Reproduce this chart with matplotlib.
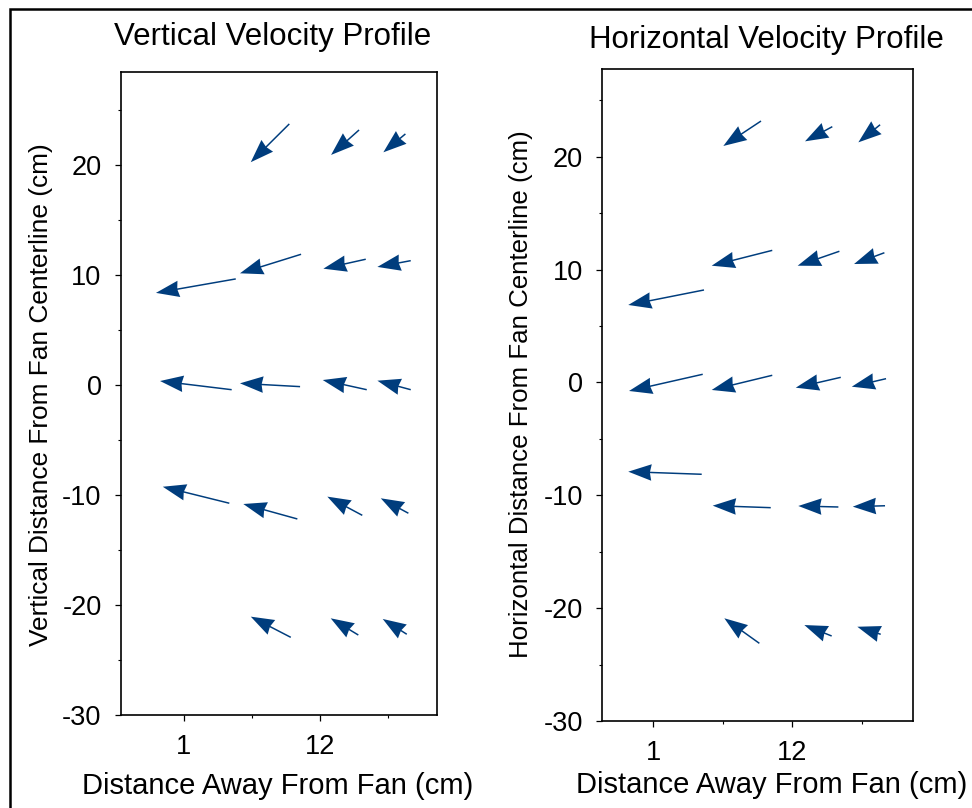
import numpy as np
import matplotlib
matplotlib.use('Agg')
import matplotlib.pyplot as plt
from matplotlib.patches import Rectangle

plt.rcParams['font.family'] = ['Liberation Sans', 'DejaVu Sans']
plt.rcParams['axes.unicode_minus'] = False

# Vertical velocity profile: arrow tails (x, y) and vector components (u, v)
vert_x = [9.52, 15.15, 18.89, 5.20, 10.47, 15.69, 19.32, 4.87, 10.39, 15.77, 19.32,
          4.68, 10.17, 15.41, 19.13, 9.64, 15.09, 19.00]
vert_y = [23.73, 23.18, 22.82, 9.64, 11.88, 11.43, 11.30, -0.43, -0.15, -0.43, -0.43,
          -10.75, -12.18, -11.85, -11.66, -22.94, -22.73, -22.66]
vert_u = [-3.11, -2.26, -1.78, -6.44, -4.93, -3.42, -2.69, -5.78, -4.85, -3.55, -2.69,
          -5.37, -4.36, -2.82, -2.23, -3.23, -2.23, -1.94]
vert_v = [-3.48, -2.27, -1.67, -1.27, -1.73, -0.86, -0.57, 0.79, 0.30, 0.88, 0.82,
          1.50, 1.36, 1.70, 1.36, 1.88, 1.52, 1.39]

# Horizontal velocity profile
horiz_x = [9.52, 15.16, 18.94, 5.01, 10.41, 15.72, 19.28, 4.91, 10.41, 15.83, 19.41,
           4.83, 10.29, 15.64, 19.33, 9.39, 15.11, 18.99]
horiz_y = [23.16, 22.66, 22.83, 8.19, 11.70, 11.62, 11.49, 0.72, 0.63, 0.45, 0.33,
           -8.14, -11.10, -11.04, -10.93, -23.12, -22.47, -22.32]
horiz_u = [-2.98, -2.16, -1.72, -5.99, -4.79, -3.30, -2.40, -5.83, -4.79, -3.56, -2.71,
           -5.81, -4.59, -3.17, -2.55, -2.77, -2.16, -1.85]
horiz_v = [-2.21, -1.30, -1.56, -1.33, -1.36, -1.28, -1.00, -1.48, -1.30, -0.92, -0.71,
           0.23, 0.18, 0.09, -0.08, 2.22, 0.97, 0.67]

x_ticks = [1, 12]
x_tick_labels = ['1', '12']
x_minor = [6.5, 17.5]
y_ticks = [-30, -20, -10, 0, 10, 20]
y_minor = [-25, -15, -5, 5, 15, 25]

arrow_color = '#003d7d'

fig = plt.figure(figsize=(9.72, 8.08), dpi=100)

# outer frame
fig.patches.append(Rectangle((0.0098, -0.05), 1.2, 0.9892 + 0.05, transform=fig.transFigure,
                             fill=False, edgecolor='black', linewidth=1.8, clip_on=False))

ax1 = fig.add_axes([0.1245, 0.1151, 0.3251, 0.7958])
ax2 = fig.add_axes([0.6197, 0.1077, 0.3193, 0.8069])


def style(ax, xlim, ylim):
    ax.set_xlim(*xlim)
    ax.set_ylim(*ylim)
    ax.set_xticks(x_ticks)
    ax.set_xticklabels(x_tick_labels)
    ax.set_xticks(x_minor, minor=True)
    ax.set_yticks(y_ticks)
    ax.set_yticks(y_minor, minor=True)
    ax.tick_params(which='major', direction='out', length=4.5, width=0.9, labelsize=19.5, pad=9.5)
    ax.tick_params(which='minor', direction='out', length=2.5, width=0.8)
    for s in ax.spines.values():
        s.set_linewidth(1.2)


qkw = dict(angles='xy', scale_units='xy', scale=1, units='dots', width=1.5,
           headwidth=11, headlength=15.5, headaxislength=14.5, color=arrow_color, linewidth=0)

ax1.quiver(vert_x, vert_y, vert_u, vert_v, **qkw)
style(ax1, (-4.06, 21.44), (-30, 28.45))
ax1.set_xlabel('Distance Away From Fan (cm)', fontsize=21)
ax1.xaxis.set_label_coords(0.495, -0.088)
ax1.set_ylabel('Vertical Distance From Fan Centerline (cm)', fontsize=18.9)
ax1.yaxis.set_label_coords(-0.215, 0.499)

ax2.quiver(horiz_x, horiz_y, horiz_u, horiz_v, **qkw)
style(ax2, (-3.03, 21.52), (-30, 27.77))
ax2.set_xlabel('Distance Away From Fan (cm)', fontsize=21)
ax2.xaxis.set_label_coords(0.546, -0.077)
ax2.set_ylabel('Horizontal Distance From Fan Centerline (cm)', fontsize=18.6)
ax2.yaxis.set_label_coords(-0.225, 0.5015)

fig.text(0.2809, 0.9443, 'Vertical Velocity Profile', ha='center', va='baseline', fontsize=22.5)
fig.text(0.7888, 0.9406, 'Horizontal Velocity Profile', ha='center', va='baseline', fontsize=22.5)

fig.savefig('out.png', dpi=100)
